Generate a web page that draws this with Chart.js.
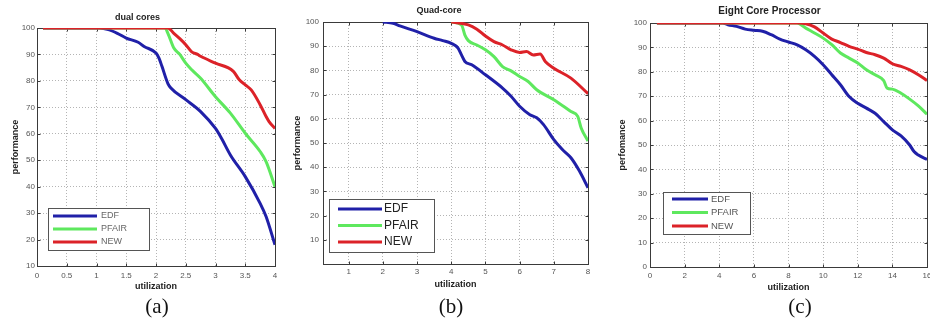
<!DOCTYPE html>
<html>
<head>
<meta charset="utf-8">
<script src="https://cdn.jsdelivr.net/npm/chart.js@4.4.0/dist/chart.umd.min.js"></script>
<style>
  html, body { margin: 0; padding: 0; background: #fff; width: 930px; height: 322px; overflow: hidden; }
  canvas { position: absolute; top: 0; }
  .cap { position: absolute; top: 294px; line-height: 24px; font-family: "Liberation Serif", "Times New Roman", serif; font-size: 21px; color: #111; transform: translateX(-50%); }
</style>
</head>
<body>
<canvas id="dual" width="285" height="295" style="left:0px"></canvas>
<canvas id="quad" width="310" height="295" style="left:290px"></canvas>
<canvas id="eight" width="329" height="295" style="left:612px"></canvas>
<div class="cap" style="left:157px">(a)</div>
<div class="cap" style="left:451px">(b)</div>
<div class="cap" style="left:800px">(c)</div>
<script>
// series names + colours shared by all three panels
const seriesNames = ["EDF", "PFAIR", "NEW"];
const seriesColors = ["#2020a8", "#5ee85e", "#dc2228"];

// (a) dual cores  [utilization, performance]
const dualXTicks = [0, 0.5, 1, 1.5, 2, 2.5, 3, 3.5, 4];
const dualYTicks = [10, 20, 30, 40, 50, 60, 70, 80, 90, 100];
const dualEdf = [[0.1,100],[1.05,100],[1.2,99.4],[1.35,98],[1.5,96.2],[1.7,94.6],[1.8,93],[2.0,90.5],[2.05,88.6],[2.1,85.5],[2.2,79],[2.25,77.3],[2.5,72.9],[2.75,68.4],[3.0,62],[3.1,58.3],[3.25,52],[3.5,43.8],[3.75,33.7],[3.85,28.7],[4.0,18]];
const dualPfair = [[0.1,100],[2.15,100],[2.2,98],[2.3,92.4],[2.4,90],[2.5,86.7],[2.6,84.2],[2.75,81],[3.0,74],[3.25,67.8],[3.5,60.2],[3.75,53.3],[3.85,49.5],[4.0,40]];
const dualNew = [[0.1,100],[2.2,100],[2.3,98],[2.4,96],[2.5,93.7],[2.6,91],[2.7,90],[2.75,89.3],[3.0,86.7],[3.3,83.6],[3.4,80.4],[3.5,78.5],[3.6,76.6],[3.75,71],[3.85,66.5],[3.9,64.6],[4.0,62]];

// (b) Quad-core
const quadXTicks = [1, 2, 3, 4, 5, 6, 7, 8];
const quadYTicks = [10, 20, 30, 40, 50, 60, 70, 80, 90, 100];
const quadEdf = [[2.0,100],[2.3,99.5],[2.5,98.4],[3.0,96],[3.5,93.3],[3.75,92.3],[4.0,91.2],[4.2,89.2],[4.3,86.4],[4.4,83.7],[4.6,82.3],[5.0,78.2],[5.5,72.7],[5.75,69.3],[6.0,65.2],[6.3,61.7],[6.5,60.4],[6.7,57.6],[7.0,51.4],[7.25,47.3],[7.5,43.9],[7.75,38.4],[8.0,31.5]];
const quadPfair = [[4.0,100],[4.3,98.8],[4.4,94.6],[4.5,92.3],[4.75,90.5],[5.0,88.5],[5.25,85.7],[5.5,81.6],[5.75,79.8],[6.0,77.5],[6.25,75.4],[6.5,72],[7.0,67.9],[7.5,63],[7.7,61],[7.8,56.2],[8.0,50.8]];
const quadNew = [[4.0,100],[4.5,98.8],[4.75,97],[5.0,94.2],[5.25,91.9],[5.5,90.5],[5.75,88.5],[6.0,87.4],[6.2,87.8],[6.4,86.4],[6.6,86.8],[6.75,83.7],[7.0,80.9],[7.5,76.8],[8.0,70.4]];

// (c) Eight Core Processor
const eightXTicks = [0, 2, 4, 6, 8, 10, 12, 14, 16];
const eightYTicks = [0, 10, 20, 30, 40, 50, 60, 70, 80, 90, 100];
const eightEdf = [[0.4,100],[4.2,100],[4.5,99.3],[5.0,98.6],[5.5,97.5],[6.0,97],[6.5,96.6],[7.0,95.2],[7.5,93.4],[8.0,92.2],[8.5,91],[9.0,89],[9.5,86.3],[10.0,82.9],[10.5,78.8],[11.0,74.7],[11.5,69.9],[12.0,67.1],[12.5,65.1],[13.0,63],[13.5,59.6],[14.0,56.2],[14.5,53.7],[15.0,50],[15.25,47.3],[15.5,45.9],[16.0,44.1]];
const eightPfair = [[0.4,100],[8.5,100],[9.0,97.9],[9.5,95.9],[10.0,93.8],[10.5,91.1],[11.0,87.7],[11.5,85.6],[12.0,83.6],[12.5,80.8],[13.0,78.8],[13.5,76.4],[13.7,73.3],[14.0,72.9],[14.5,71.2],[15.0,68.8],[15.5,66],[16.0,62.6]];
const eightNew = [[0.4,100],[8.6,100],[9.0,99.7],[9.5,98.4],[10.0,95.9],[10.5,93.4],[11.0,92],[11.5,90.4],[12.0,89.3],[12.5,87.9],[13.0,87],[13.5,85.6],[14.0,83.3],[14.5,82.2],[15.0,80.8],[15.5,78.8],[16.0,76.4]];

const SANS = "'Liberation Sans', Arial, sans-serif";

// matlab style box + inward ticks (under the lines), legend inside the axes (on top)
const framePlugin = {
  id: "frame",
  beforeDatasetsDraw(chart) {
    const ctx = chart.ctx;
    const a = chart.chartArea;
    const xs = chart.scales.x, ys = chart.scales.y;
    ctx.save();
    ctx.strokeStyle = "#3a3a3a";
    ctx.lineWidth = 1;
    const l = Math.round(a.left) + 0.5, r = Math.round(a.right) + 0.5;
    const t = Math.round(a.top) + 0.5, b = Math.round(a.bottom) + 0.5;
    ctx.strokeRect(l, t, r - l, b - t);
    ctx.beginPath();
    xs.ticks.forEach(tk => {
      const px = Math.round(xs.getPixelForValue(tk.value)) + 0.5;
      ctx.moveTo(px, b); ctx.lineTo(px, b - 3);
      ctx.moveTo(px, t); ctx.lineTo(px, t + 3);
    });
    ys.ticks.forEach(tk => {
      const py = Math.round(ys.getPixelForValue(tk.value)) + 0.5;
      ctx.moveTo(l, py); ctx.lineTo(l + 3, py);
      ctx.moveTo(r, py); ctx.lineTo(r - 3, py);
    });
    ctx.stroke();
    ctx.restore();
  },
  afterDatasetsDraw(chart, args, o) {
    const ctx = chart.ctx;
    const a = chart.chartArea;
    const L = o.legend;
    const bx = Math.round(a.left + L.dx), by = Math.round(a.bottom - L.dy - L.h);
    ctx.save();
    ctx.fillStyle = "#fff";
    ctx.fillRect(bx, by, L.w, L.h);
    ctx.strokeStyle = "#555";
    ctx.lineWidth = 1;
    ctx.strokeRect(bx + 0.5, by + 0.5, L.w, L.h);
    ctx.font = L.font;
    ctx.textBaseline = "middle";
    chart.data.datasets.forEach((ds, i) => {
      const y = by + L.row0 + i * L.rowGap;
      ctx.strokeStyle = ds.borderColor;
      ctx.lineWidth = 3;
      ctx.beginPath();
      ctx.moveTo(bx + L.x0, y);
      ctx.lineTo(bx + L.x1, y);
      ctx.stroke();
      ctx.fillStyle = L.color;
      ctx.fillText(ds.label, bx + L.tx, y);
    });
    ctx.restore();
  }
};

function makeChart(id, p) {
  const datasets = p.series.map((pts, i) => ({
    label: seriesNames[i],
    data: pts.map(v => ({ x: v[0], y: v[1] })),
    borderColor: seriesColors[i],
    borderWidth: 3,
    pointRadius: 0,
    cubicInterpolationMode: "monotone",
    order: 3 - i
  }));

  return new Chart(document.getElementById(id), {
    type: "line",
    data: { datasets },
    plugins: [framePlugin],
    options: {
      responsive: false,
      animation: false,
      layout: { padding: { left: 0, right: p.padRight, top: 0, bottom: 0 } },
      plugins: {
        legend: { display: false },
        tooltip: { enabled: false },
        title: {
          display: true,
          text: p.title,
          color: "#222",
          font: { family: SANS, size: p.titleSize, weight: "bold" },
          padding: p.titlePad
        },
        frame: { legend: p.legend }
      },
      scales: {
        x: {
          type: "linear",
          min: p.xMin, max: p.xMax,
          afterBuildTicks: s => { s.ticks = p.xTicks.map(v => ({ value: v })); },
          afterFit: s => { s.height = p.xHeight; },
          ticks: {
            color: "#555", padding: p.xTickPad, maxRotation: 0,
            font: { family: SANS, size: 8 },
            callback: v => String(v)
          },
          grid: { color: "#b4b4b4", drawTicks: false, lineWidth: 1 },
          border: { display: false, dash: [1, 2] },
          title: {
            display: true, text: "utilization", color: "#222",
            font: { family: SANS, size: 9, weight: "bold" },
            padding: { top: 0, bottom: p.xTitlePad }
          }
        },
        y: {
          type: "linear",
          min: p.yMin, max: p.yMax,
          afterBuildTicks: s => { s.ticks = p.yTicks.map(v => ({ value: v })); },
          afterFit: s => { s.width = p.yWidth; },
          ticks: {
            color: "#555", padding: p.yTickPad,
            font: { family: SANS, size: 8 },
            callback: v => String(v)
          },
          grid: { color: "#b4b4b4", drawTicks: false, lineWidth: 1 },
          border: { display: false, dash: [1, 2] },
          title: {
            display: p.yTitle !== "", text: p.yTitle, color: "#222",
            font: { family: SANS, size: 9, weight: "bold" },
            padding: { top: p.yTitlePad, bottom: 0 }
          }
        }
      }
    }
  });
}

makeChart("dual", {
  title: "dual cores", titleSize: 9, titlePad: { top: 12, bottom: 5.2 },
  series: [dualEdf, dualPfair, dualNew],
  xMin: 0, xMax: 4, yMin: 10, yMax: 100,
  xTicks: dualXTicks, yTicks: dualYTicks,
  yTitle: "performance",
  padRight: 10, yWidth: 37, xHeight: 29,
  xTickPad: 5, yTickPad: 2, xTitlePad: 2.6, yTitlePad: 10.6,
  legend: { dx: 11, dy: 16, w: 101, h: 42, x0: 5, x1: 49, tx: 53, row0: 8, rowGap: 13,
            font: "9px " + SANS, color: "#666" }
});

makeChart("quad", {
  title: "Quad-core", titleSize: 9, titlePad: { top: 5.6, bottom: 5.6 },
  series: [quadEdf, quadPfair, quadNew],
  xMin: 0.25, xMax: 8, yMin: 0, yMax: 100,
  xTicks: quadXTicks, yTicks: quadYTicks,
  yTitle: "performance",
  padRight: 12, yWidth: 33, xHeight: 31,
  xTickPad: 3, yTickPad: 4, xTitlePad: 4.6, yTitlePad: 2.6,
  legend: { dx: 6, dy: 12, w: 105, h: 53, x0: 9, x1: 53, tx: 55, row0: 10, rowGap: 16.5,
            font: "12px " + SANS, color: "#222" }
});

makeChart("eight", {
  title: "Eight Core Processor", titleSize: 10, titlePad: { top: 5, bottom: 6 },
  series: [eightEdf, eightPfair, eightNew],
  xMin: 0, xMax: 16, yMin: 0, yMax: 100,
  xTicks: eightXTicks, yTicks: eightYTicks,
  yTitle: "perfomance",
  padRight: 14, yWidth: 38, xHeight: 28,
  xTickPad: 4, yTickPad: 3, xTitlePad: 1.6, yTitlePad: 5.6,
  legend: { dx: 13, dy: 33, w: 87, h: 42, x0: 9, x1: 45, tx: 48, row0: 7, rowGap: 13.5,
            font: "9.5px " + SANS, color: "#555" }
});
</script>
</body>
</html>
